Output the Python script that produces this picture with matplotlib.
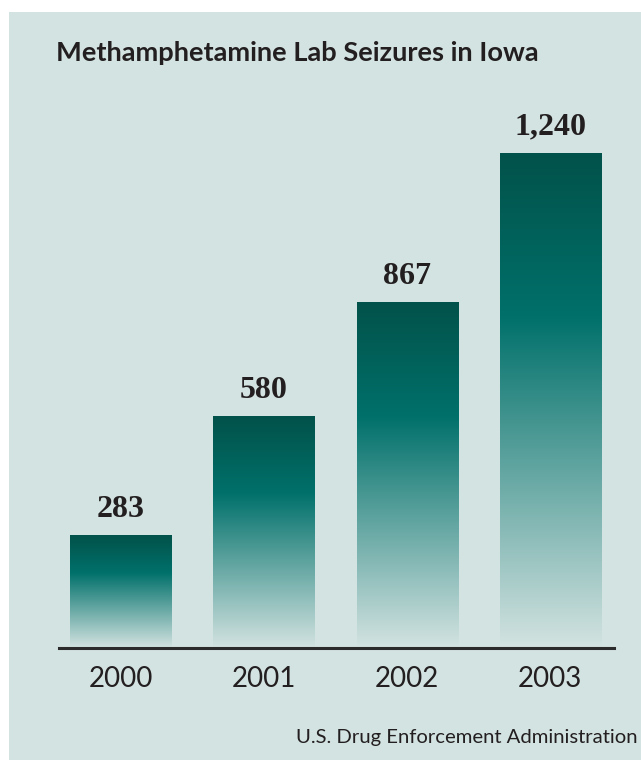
import numpy as np
import matplotlib
matplotlib.use("Agg")
import matplotlib.pyplot as plt
from matplotlib.colors import LinearSegmentedColormap
from matplotlib.patches import Rectangle

years = ["2000", "2001", "2002", "2003"]
seizures = [283, 580, 867, 1240]
value_labels = ["283", "580", "867", "1,240"]

title = "Methamphetamine Lab Seizures in Iowa"
source = "U.S. Drug Enforcement Administration"

W, H = 641, 760
bg = "#d3e3e1"
teal = "#00706a"
dark = "#02524a"
ink = "#231f20"

fig = plt.figure(figsize=(W / 100, H / 100), dpi=100)
fig.patch.set_facecolor("white")

# shaded panel behind everything
fig.patches.append(Rectangle((9 / W, 0), 1 - 9 / W, 1 - 12 / H,
                             transform=fig.transFigure, facecolor=bg,
                             edgecolor="none", zorder=-5))

# axes placed in pixel terms: x 59..614, baseline at y=648
ax = fig.add_axes([59 / W, (H - 648) / H, 555 / W, 559 / H])
ax.set_facecolor("none")
ax.set_xlim(-0.429, 3.444)
ax.set_ylim(0, 1400)

# vertical gradient: background at the base, teal a third down, dark at top
cmap = LinearSegmentedColormap.from_list("fade", [(0, bg), (0.67, teal), (1, dark)])
grad = np.linspace(0, 1, 256).reshape(-1, 1)
bw = 0.705
bars = ax.bar(range(len(years)), seizures, width=bw, color="none", edgecolor="none")
for i, (b, v, lab) in enumerate(zip(bars, seizures, value_labels)):
    im = ax.imshow(grad, cmap=cmap, origin="lower", aspect="auto",
                   extent=(i - bw / 2, i + bw / 2, 0, v), zorder=2)
    im.set_clip_path(b)
    ax.annotate(lab, (i, v), xytext=(0, 8), textcoords="offset points",
                ha="center", va="bottom", fontsize=23, fontweight="bold",
                family="Liberation Serif", color=ink)

for s in ["top", "left", "right"]:
    ax.spines[s].set_visible(False)
ax.spines["bottom"].set_linewidth(2.2)
ax.spines["bottom"].set_color("#2b2b2b")
ax.spines["bottom"].set_zorder(3)
ax.set_yticks([])
ax.set_xticks(range(len(years)))
ax.set_xticklabels(years, fontsize=20, family="Lato", color=ink)
ax.tick_params(axis="x", length=0, pad=13)

fig.text(56 / W, 1 - 53 / H, title, ha="left", va="center",
         fontsize=19.6, fontweight="bold", family="Lato", color=ink)
fig.text(638 / W, 1 - 737 / H, source, ha="right", va="center",
         fontsize=14.6, family="Lato", color=ink)

fig.savefig("out.png", dpi=100, facecolor=fig.get_facecolor())
